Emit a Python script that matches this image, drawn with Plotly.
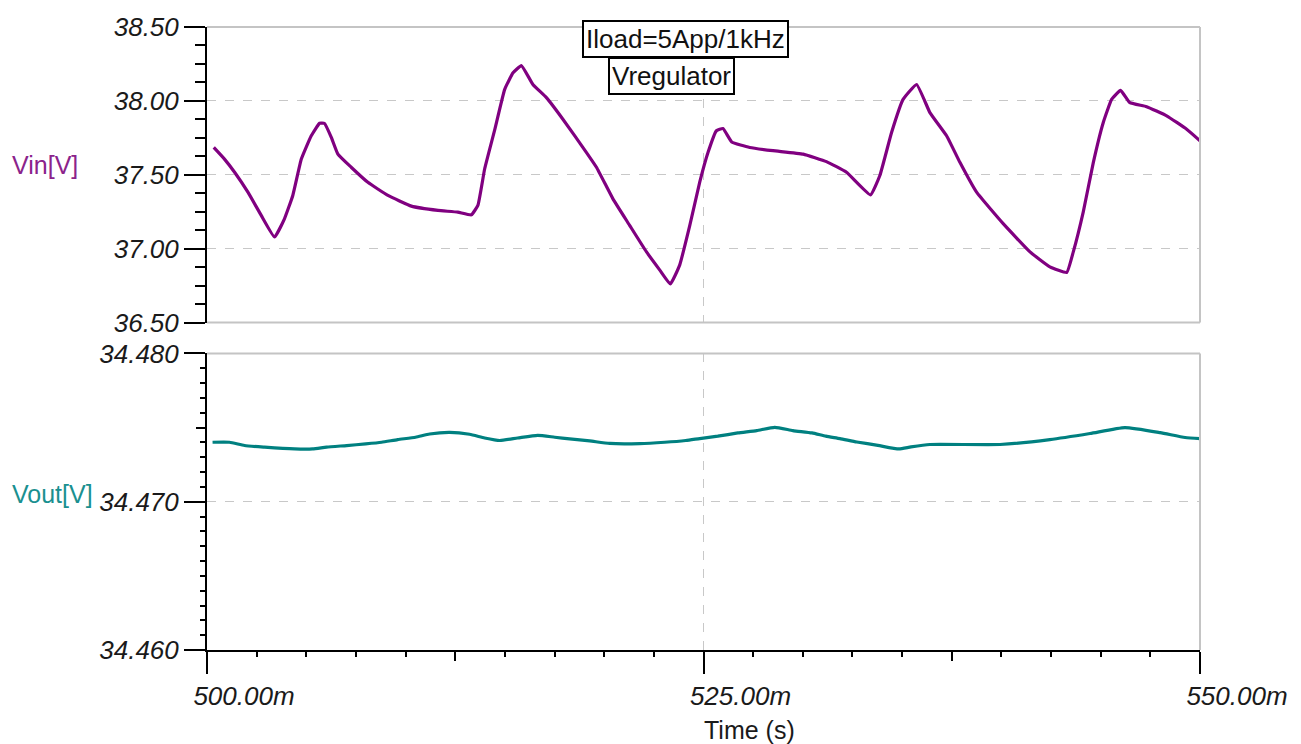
import plotly.graph_objects as go

# ---- data (time in ms, voltages in V) ----
vin_t = [500.34, 500.88, 501.39, 502.06, 502.73, 503.40, 503.90, 504.32, 504.75, 505.25,
         505.67, 505.92, 506.26, 506.59, 507.26, 508.10, 509.11, 510.29, 511.63, 512.63,
         513.31, 513.64, 513.98, 514.48, 514.99, 515.41, 515.83, 516.41, 517.09, 517.92,
         519.10, 519.61, 520.44, 521.28, 522.13, 522.80, 523.33, 523.80, 524.31, 524.81,
         525.23, 525.65, 525.98, 526.42, 527.33, 528.50, 530.02, 531.19, 532.20, 533.41,
         533.88, 534.47, 535.05, 535.73, 536.40, 537.24, 537.91, 538.75, 540.09, 541.44,
         542.44, 543.29, 543.62, 544.12, 544.63, 545.13, 545.55, 546.00, 546.47, 547.31,
         548.32, 549.33, 550.00]
vin_v = [37.685, 37.606, 37.517, 37.382, 37.225, 37.079, 37.202, 37.360, 37.606, 37.764,
         37.849, 37.847, 37.753, 37.640, 37.551, 37.449, 37.360, 37.288, 37.259, 37.247,
         37.229, 37.293, 37.539, 37.800, 38.078, 38.190, 38.239, 38.111, 38.022, 37.876,
         37.652, 37.551, 37.337, 37.158, 36.978, 36.855, 36.761, 36.889, 37.158, 37.450,
         37.652, 37.798, 37.813, 37.722, 37.685, 37.663, 37.640, 37.589, 37.517, 37.364,
         37.495, 37.786, 38.010, 38.111, 37.921, 37.764, 37.584, 37.382, 37.169, 36.978,
         36.877, 36.839, 36.978, 37.247, 37.584, 37.854, 38.010, 38.071, 37.988, 37.961,
         37.899, 37.808, 37.730]

vout_t = [500.28, 501.13, 501.89, 502.90, 504.41, 505.32, 506.02, 507.03, 507.99, 508.79,
          509.60, 510.50, 511.21, 512.22, 513.22, 513.98, 514.74, 515.64, 516.65, 517.51,
          518.26, 519.27, 520.28, 521.79, 523.05, 524.11, 524.81, 525.72, 526.73, 527.68,
          528.59, 529.50, 530.46, 531.16, 531.87, 532.72, 533.78, 534.84, 535.45, 536.40,
          539.93, 542.44, 544.46, 546.22, 547.99, 549.25, 550.00]
vout_v = [34.47401, 34.47401, 34.47379, 34.47368, 34.47356, 34.47356, 34.47368, 34.47379, 34.47390, 34.47401,
          34.47419, 34.47435, 34.47457, 34.47468, 34.47455, 34.47430, 34.47413, 34.47430, 34.47448, 34.47435,
          34.47424, 34.47410, 34.47393, 34.47392, 34.47401, 34.47413, 34.47426, 34.47442, 34.47464, 34.47480,
          34.47502, 34.47480, 34.47464, 34.47442, 34.47426, 34.47403, 34.47380, 34.47356, 34.47370, 34.47386,
          34.47386, 34.47419, 34.47460, 34.47500, 34.47466, 34.47433, 34.47426]

x_ticks = [500, 525, 550]
x_ticklabels = ["500.00m", "525.00m", "550.00m"]
x_mid_ticks = [512.5, 537.5]
vin_ticks = [36.5, 37.0, 37.5, 38.0, 38.5]
vin_ticklabels = ["36.50", "37.00", "37.50", "38.00", "38.50"]
vout_ticks = [34.46, 34.47, 34.48]
vout_ticklabels = ["34.460", "34.470", "34.480"]
vout_mid_ticks = [34.475]

PURPLE = "#800080"
TEAL = "#008080"
GRID = "#c8c8c8"
FRAME = "#c4c4c4"
FONT = "Liberation Sans, Arial, sans-serif"
tickfont = dict(family=FONT, size=26, color="#1a1a1a", style="italic")

fig = go.Figure()
fig.add_trace(go.Scatter(x=vin_t, y=vin_v, mode="lines",
                         line=dict(color=PURPLE, width=3.2, shape="spline", smoothing=0.35),
                         xaxis="x", yaxis="y", showlegend=False, hoverinfo="skip"))
fig.add_trace(go.Scatter(x=vout_t, y=vout_v, mode="lines",
                         line=dict(color=TEAL, width=3.2, shape="spline", smoothing=0.5),
                         xaxis="x2", yaxis="y2", showlegend=False, hoverinfo="skip"))
# invisible helper traces so the overlay tick axes are drawn
fig.add_trace(go.Scatter(x=[None], y=[None], mode="lines", xaxis="x3", yaxis="y2",
                         showlegend=False, hoverinfo="skip"))
fig.add_trace(go.Scatter(x=[None], y=[None], mode="lines", xaxis="x2", yaxis="y3",
                         showlegend=False, hoverinfo="skip"))

top_dom = [0.5256, 1.0]
bot_dom = [0.0, 0.476]

fig.update_layout(
    width=1301, height=744,
    margin=dict(l=207, r=101, t=24, b=94),
    paper_bgcolor="white", plot_bgcolor="white",
    showlegend=False,
    xaxis=dict(domain=[0, 1], anchor="y", range=[500, 550], tickmode="array", tickvals=[525],
               showticklabels=False, ticks="", showgrid=True, gridcolor=GRID, griddash="dash",
               gridwidth=1, showline=False, zeroline=False),
    yaxis=dict(domain=top_dom, anchor="x", range=[36.5, 38.5], tickmode="array",
               tickvals=vin_ticks, ticktext=vin_ticklabels, tickfont=tickfont,
               ticks="outside", ticklen=21, tickwidth=2, tickcolor="black",
               showline=True, linecolor="black", linewidth=2,
               showgrid=True, gridcolor=GRID, griddash="dash", gridwidth=1, zeroline=False,
               minor=dict(dtick=0.125, tick0=36.5, ticks="outside", ticklen=10, tickwidth=2,
                          tickcolor="black", showgrid=False)),
    xaxis2=dict(domain=[0, 1], anchor="y2", range=[500, 550], tickmode="array",
                tickvals=x_ticks, ticktext=x_ticklabels, tickfont=tickfont,
                ticks="outside", ticklen=22, tickwidth=2, tickcolor="black",
                ticklabelshift=37,
                showline=True, linecolor="black", linewidth=2,
                showgrid=True, gridcolor=GRID, griddash="dash", gridwidth=1, zeroline=False,
                minor=dict(dtick=2.5, tick0=500, ticks="outside", ticklen=5, tickwidth=2,
                           tickcolor="black", showgrid=False)),
    yaxis2=dict(domain=bot_dom, anchor="x2", range=[34.46, 34.48], tickmode="array",
                tickvals=vout_ticks, ticktext=vout_ticklabels, tickfont=tickfont,
                ticks="outside", ticklen=21, tickwidth=2, tickcolor="black",
                showline=True, linecolor="black", linewidth=2,
                showgrid=True, gridcolor=GRID, griddash="dash", gridwidth=1, zeroline=False,
                minor=dict(dtick=0.001, tick0=34.46, ticks="outside", ticklen=5, tickwidth=2,
                           tickcolor="black", showgrid=False)),
    xaxis3=dict(overlaying="x2", anchor="y2", side="bottom", range=[500, 550], tickmode="array",
                tickvals=x_mid_ticks, showticklabels=False, ticks="outside", ticklen=10,
                tickwidth=2, tickcolor="black", showgrid=False, showline=False, zeroline=False),
    yaxis3=dict(overlaying="y2", anchor="x2", side="left", range=[34.46, 34.48], tickmode="array",
                tickvals=vout_mid_ticks, showticklabels=False, ticks="outside", ticklen=10,
                tickwidth=2, tickcolor="black", showgrid=False, showline=False, zeroline=False),
)

# grey frame edges (top/right/bottom of upper panel, top/right of lower panel)
frame = dict(color=FRAME, width=2)
for xr, yr, edges in (("x domain", "y domain", [(0, 1, 1, 1), (1, 1, 0, 1), (0, 1, 0, 0)]),
                      ("x2 domain", "y2 domain", [(0, 1, 1, 1), (1, 1, 0, 1)])):
    for x0, x1, y0, y1 in edges:
        fig.add_shape(type="line", xref=xr, yref=yr, x0=x0, x1=x1, y0=y0, y1=y1,
                      line=frame, layer="above")

ann_font = dict(family=FONT, size=26, color="#111111")
fig.add_annotation(xref="paper", yref="paper", x=0.4814, y=0.98, text="Iload=5App/1kHz",
                   showarrow=False, font=ann_font, bgcolor="white", bordercolor="black",
                   borderwidth=2, borderpad=2, xanchor="center", yanchor="middle")
fig.add_annotation(xref="paper", yref="paper", x=0.4673, y=0.9215, text="Vregulator",
                   showarrow=False, font=ann_font, bgcolor="white", bordercolor="black",
                   borderwidth=2, borderpad=2, xanchor="center", yanchor="middle")
fig.add_annotation(xref="paper", yref="paper", x=-0.198, y=0.778, text="Vin[V]",
                   showarrow=False, font=dict(family=FONT, size=25, color="#8b238b"),
                   xanchor="left", yanchor="middle")
fig.add_annotation(xref="paper", yref="paper", x=-0.198, y=0.251, text="Vout[V]",
                   showarrow=False, font=dict(family=FONT, size=25, color="#1a9090"),
                   xanchor="left", yanchor="middle")
fig.add_annotation(xref="paper", yref="paper", x=0.546, y=-0.128, text="Time (s)",
                   showarrow=False, font=dict(family=FONT, size=25, color="#1a1a1a"),
                   xanchor="center", yanchor="middle")

fig.write_html("out.html", config={"displayModeBar": False},
               post_script="document.body.style.margin='0';")
